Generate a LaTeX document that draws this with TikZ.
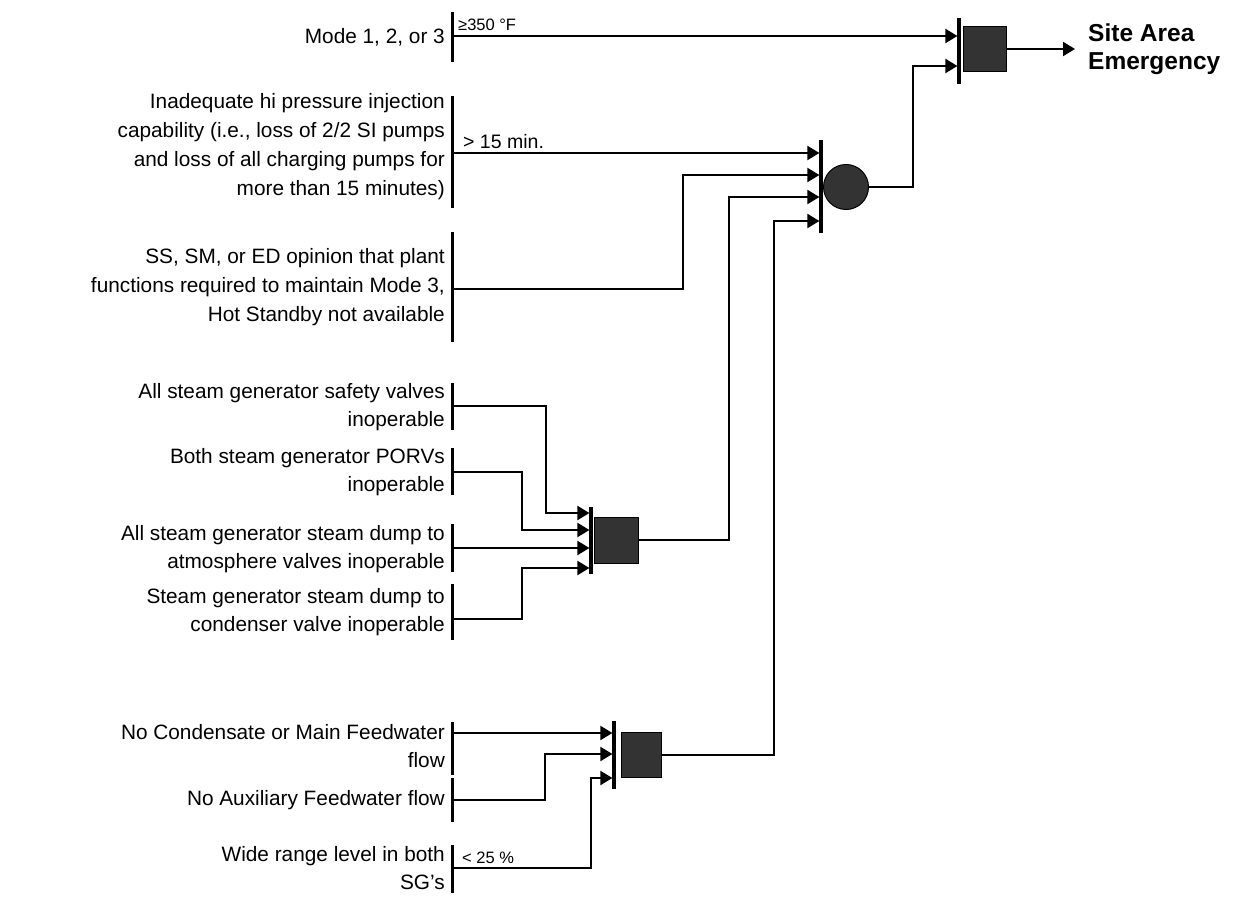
\documentclass[tikz,border=0pt]{standalone}
\usepackage{fontspec}
\setmainfont{Liberation Sans}
\usetikzlibrary{arrows.meta,positioning}
\tikzset{
  cond/.style={anchor=east, align=right, inner sep=0pt, font=\fontsize{20.8}{28.5}\selectfont},
  setpt/.style={anchor=south west, inner sep=0pt, font=\fontsize{16.5}{18}\selectfont},
  cbar/.style={line width=3pt},
  gbar/.style={line width=3.2pt},
  andgate/.style={draw=black, fill=black!80, minimum width=43pt, minimum height=45pt, inner sep=0pt, line width=1pt},
  orgate/.style={circle, draw=black, fill=black!80, minimum size=45pt, inner sep=0pt, line width=1pt},
  wire/.style={line width=2pt},
  feed/.style={wire, -{Triangle[length=12pt,width=14pt]}},
  result/.style={anchor=west, align=left, inner sep=0pt, inner xsep=13pt, font=\fontsize{24.5}{28}\selectfont\bfseries}
}

\begin{document}
\begin{tikzpicture}[x=1pt, y=-1pt]
    \useasboundingbox (0,0) rectangle (1233,896);

    % conditions
    \node[cond] (mode) at (445,37) {Mode 1, 2, or 3};
    \node[cond, font=\fontsize{20.8}{29}\selectfont] (hpi) at (445,147) {Inadequate hi pressure injection\\capability (i.e., loss of 2/2 SI pumps\\and loss of all charging pumps for\\more than 15 minutes)};
    \node[cond, font=\fontsize{20.8}{29}\selectfont] (ss) at (445,287) {SS, SM, or ED opinion that plant\\functions required to maintain Mode 3,\\Hot Standby not available};
    \node[cond] (sv) at (445,407) {All steam generator safety valves\\inoperable};
    \node[cond] (porv) at (445,472) {Both steam generator PORVs\\inoperable};
    \node[cond] (atm) at (445,549) {All steam generator steam dump to\\atmosphere valves inoperable};
    \node[cond] (cdv) at (445,612) {Steam generator steam dump to\\condenser valve inoperable};
    \node[cond] (cfw) at (445,746) {No Condensate or Main Feedwater\\flow};
    \node[cond] (afw) at (445,800) {No Auxiliary Feedwater flow};
    \node[cond] (wr) at (445,868) {Wide range level in both\\SG's};

    \draw[cbar] (452,12) -- (452,62);
    \draw[cbar] (452,96) -- (452,208);
    \draw[cbar] (452,232) -- (452,342);
    \draw[cbar] (452,383) -- (452,430);
    \draw[cbar] (452,448) -- (452,495);
    \draw[cbar] (452,524) -- (452,572);
    \draw[cbar] (452,584) -- (452,640);
    \draw[cbar] (452,722) -- (452,775);
    \draw[cbar] (452,778) -- (452,822);
    \draw[cbar] (452,845) -- (452,893);

    \coordinate (mode-o) at (452,36);
    \coordinate (hpi-o) at (452,153);
    \coordinate (ss-o) at (452,289);
    \coordinate (sv-o) at (452,406);
    \coordinate (porv-o) at (452,472);
    \coordinate (atm-o) at (452,548);
    \coordinate (cdv-o) at (452,619);
    \coordinate (cfw-o) at (452,733);
    \coordinate (afw-o) at (452,800);
    \coordinate (wr-o) at (452,868);

    \node[setpt] (t350) at (458,31) {≥350 °F};
    \node[setpt, font=\fontsize{19.5}{21}\selectfont] (t15) at (463,149) {> 15 min.};
    \node[setpt] (t25) at (462,864) {< 25 \%};

    % gates
    \node[andgate] (sae) at (984.5,49) {};
    \draw[gbar] (959,18) -- (959,84);
    \node[orgate] (orA) at (846,187) {};
    \draw[gbar] (821,140) -- (821,233);
    \node[andgate, minimum width=44pt, minimum height=46pt] (sgv) at (616,540) {};
    \draw[gbar] (591,507) -- (591,574);
    \node[andgate, minimum width=40pt] (fw) at (641,754.5) {};
    \draw[gbar] (614,721) -- (614,789);

    \coordinate (sae1) at (957.4,36);
    \coordinate (sae2) at (957.4,66);
    \coordinate (or1) at (819.4,153);
    \coordinate (or2) at (819.4,175);
    \coordinate (or3) at (819.4,197);
    \coordinate (or4) at (819.4,221);
    \coordinate (sgv1) at (589.4,513);
    \coordinate (sgv2) at (589.4,530);
    \coordinate (sgv3) at (589.4,548);
    \coordinate (sgv4) at (589.4,568);
    \coordinate (fw1) at (612.4,733);
    \coordinate (fw2) at (612.4,754);
    \coordinate (fw3) at (612.4,778);

    % bends
    \coordinate (kss) at (683,175);
    \coordinate (ksgv) at (729,197);
    \coordinate (kfw) at (774,221);
    \coordinate (kor) at (913,66);
    \coordinate (ksv) at (546,513);
    \coordinate (kporv) at (522,530);
    \coordinate (kcdv) at (522,568);
    \coordinate (kafw) at (545,754);
    \coordinate (kwr) at (591,778);

    \node[result] (sa) at (1075,49) {Site Area\\Emergency};

    \draw[feed] (mode-o) -- (sae1);
    \draw[feed] (hpi-o) -- (or1);
    \draw[feed] (ss-o) -| (kss) -- (or2);
    \draw[feed] (sgv.east) -| (ksgv) -- (or3);
    \draw[feed] (fw.east) -| (kfw) -- (or4);
    \draw[feed] (orA.east) -| (kor) -- (sae2);
    \draw[feed] (sae.east) -- (sa.west);

    \draw[feed] (sv-o) -| (ksv) -- (sgv1);
    \draw[feed] (porv-o) -| (kporv) -- (sgv2);
    \draw[feed] (atm-o) -- (sgv3);
    \draw[feed] (cdv-o) -| (kcdv) -- (sgv4);

    \draw[feed] (cfw-o) -- (fw1);
    \draw[feed] (afw-o) -| (kafw) -- (fw2);
    \draw[feed] (wr-o) -| (kwr) -- (fw3);
\end{tikzpicture}
\end{document}
